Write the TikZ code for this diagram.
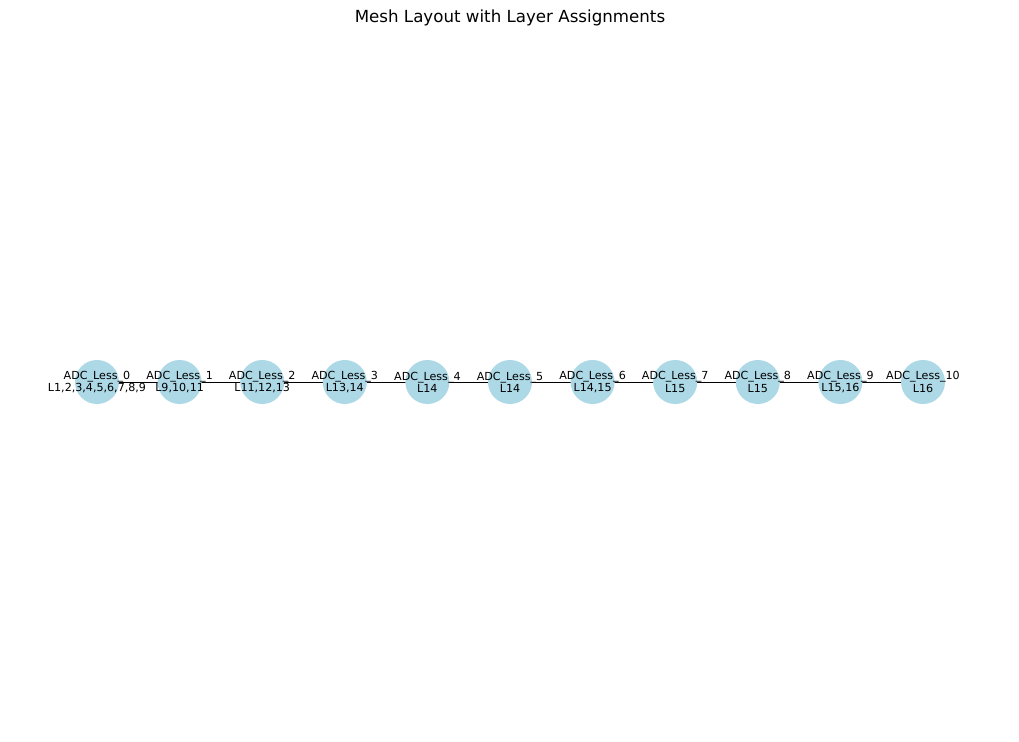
\documentclass[tikz,border=0pt]{standalone}
\usepackage{fontspec}
\setmainfont{DejaVu Sans}
\usetikzlibrary{backgrounds}
\begin{document}
\begin{tikzpicture}[x=0.72pt, y=-0.72pt]
  %
  \tikzstyle{mesh} = [circle, fill={rgb,255:red,173;green,216;blue,230}, minimum size=31.7pt, inner sep=0pt]
  \tikzstyle{lbl} = [align=center, inner sep=0pt, font=\fontsize{8}{8.8}\selectfont]
  \useasboundingbox (0,0) rectangle (1019,742);
  \node[font=\fontsize{12}{14}\selectfont] (title) at (510,18) {Mesh Layout with Layer Assignments};
  \foreach \i/\layers in {0/{1,2,3,4,5,6,7,8,9}, 1/{9,10,11}, 2/{11,12,13}, 3/{13,14}, 4/{14},
                          5/{14}, 6/{14,15}, 7/{15}, 8/{15}, 9/{15,16}, 10/{16}}
    \node[mesh] (n\i) at (97+82.6*\i,382) {};
  \foreach \i/\layers in {0/{1,2,3,4,5,6,7,8,9}, 1/{9,10,11}, 2/{11,12,13}, 3/{13,14}, 4/{14},
                          5/{14}, 6/{14,15}, 7/{15}, 8/{15}, 9/{15,16}, 10/{16}}
    \node[lbl] (t\i) at (n\i.center) {ADC\_Less\_\i\\L\layers};
  \begin{scope}[on background layer]
    \foreach \i [evaluate=\i as \j using int(\i-1)] in {1,...,10}
      \draw[line width=0.7pt] (n\j.center) -- (n\i.center);
  \end{scope}
\end{tikzpicture}
\end{document}
